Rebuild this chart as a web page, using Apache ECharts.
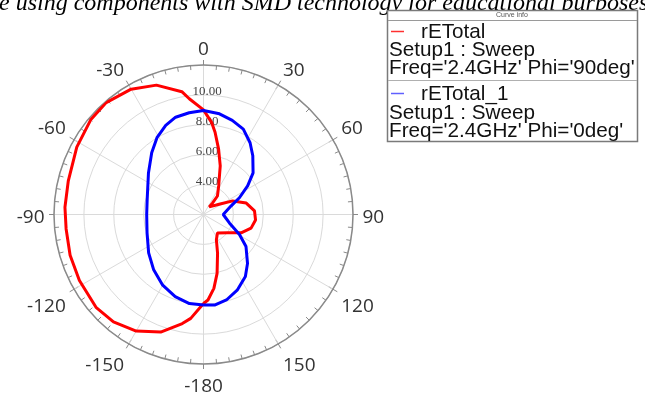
<!DOCTYPE html>
<html>
<head>
<meta charset="utf-8">
<script src="https://cdn.jsdelivr.net/npm/echarts@6/dist/echarts.min.js"></script>
<style>
  html, body { margin: 0; padding: 0; background: #ffffff; }
  #chart { width: 645px; height: 403px; }
</style>
</head>
<body>
<div id="chart"></div>
<script>
// Far-field gain pattern, rETotal at 2.4 GHz (angles in degrees, -180..180)
const redAngle = [-180, -173, -169, -160, -150, -140, -131, -118, -107, -96, -87, -76, -62, -50, -41, -30, -20, -10, -7,
                  0, 5, 8, 13, 19, 28, 37, 38, 37, 57, 65, 75, 86, 96, 106, 116, 127, 143, 153, 160, 167, 172, 177, 180];
const redValue = [7.95, 9.0, 9.43, 10.37, 11.0, 11.37, 11.5, 11.4, 11.33, 11.24, 11.28, 11.32, 11.6, 11.85, 11.92, 11.68, 11.21, 10.34, 9.8,
                  9.0, 8.19, 7.56, 6.49, 5.44, 4.16, 3.55, 2.99, 2.64, 3.25, 4.15, 4.96, 5.42, 5.5, 5.31, 4.8, 4.03, 3.55, 3.9, 4.75, 6.04, 6.99, 7.73, 7.95];

const blueAngle = [-180, -171, -161, -150, -138, -125, -108, -90, -75, -53, -40, -31, -23, -16, -8,
                   0, 9, 17, 25, 33, 40, 50, 57, 65, 73, 90, 108, 119, 127, 138, 146, 156, 165, 173, 180];
const blueValue = [8.05, 8.03, 7.81, 7.46, 6.98, 6.48, 5.97, 5.8, 5.9, 6.61, 7.39, 8.02, 8.47, 8.77, 8.87,
                   8.96, 8.82, 8.58, 8.30, 7.72, 7.13, 6.33, 5.52, 4.65, 3.92, 3.32, 3.82, 4.75, 5.56, 6.40, 7.01, 7.54, 7.92, 8.10, 8.05];

// Angle tick labels, one per 30 degrees going clockwise from the top
const angleLabels = ['0', '30', '60', '90', '120', '150', '-180', '-150', '-120', '-90', '-60', '-30'];
// Radial grid values and their labels
const radialTicks = [4, 6, 8, 10];
const radialLabels = ['4.00', '6.00', '8.00', '10.00'];

const legendEntries = [
  { name: 'rETotal', setup: 'Setup1 : Sweep', sweep: "Freq='2.4GHz' Phi='90deg'" },
  { name: 'rETotal_1', setup: 'Setup1 : Sweep', sweep: "Freq='2.4GHz' Phi='0deg'" }
];

function toPolar(angles, values) {
  return angles.map((a, i) => [values[i], a < 0 ? a + 360 : a]);
}

const CX = 203.5, CY = 214.5, R = 149.5;
const axisGray = '#8a8a8a';
const gridGray = '#dadada';
const legendFont = '20.7px "Liberation Sans"';

const chart = echarts.init(document.getElementById('chart'), null, { renderer: 'canvas' });

const legendGraphic = {
  type: 'group',
  children: [
    { type: 'rect', shape: { x: 387.5, y: 10.5, width: 250, height: 131 },
      style: { fill: '#ffffff', stroke: '#7a7a7a', lineWidth: 1.5 } },
    { type: 'text', style: { x: 512, y: 15.5, text: 'Curve info', font: '7px "Liberation Sans"', fill: '#555', align: 'center', verticalAlign: 'middle' } },
    { type: 'line', shape: { x1: 388, y1: 20.5, x2: 637, y2: 20.5 }, style: { stroke: '#9a9a9a', lineWidth: 1 } },
    { type: 'line', shape: { x1: 388, y1: 80.5, x2: 637, y2: 80.5 }, style: { stroke: '#b0b0b0', lineWidth: 1 } },
    { type: 'line', shape: { x1: 391, y1: 31.5, x2: 404, y2: 31.5 }, style: { stroke: '#ff3030', lineWidth: 1.5 } },
    { type: 'line', shape: { x1: 391, y1: 93.5, x2: 404, y2: 93.5 }, style: { stroke: '#6060ff', lineWidth: 1.5 } },
    { type: 'text', style: { x: 421, y: 32.5, text: legendEntries[0].name, font: legendFont, fill: '#111', verticalAlign: 'middle' } },
    { type: 'text', style: { x: 389, y: 50.5, text: legendEntries[0].setup, font: legendFont, fill: '#111', verticalAlign: 'middle' } },
    { type: 'text', style: { x: 389, y: 68.5, text: legendEntries[0].sweep, font: legendFont, fill: '#111', verticalAlign: 'middle' } },
    { type: 'text', style: { x: 421, y: 94.5, text: legendEntries[1].name, font: legendFont, fill: '#111', verticalAlign: 'middle' } },
    { type: 'text', style: { x: 389, y: 113, text: legendEntries[1].setup, font: legendFont, fill: '#111', verticalAlign: 'middle' } },
    { type: 'text', style: { x: 389, y: 131.5, text: legendEntries[1].sweep, font: legendFont, fill: '#111', verticalAlign: 'middle' } }
  ]
};

const option = {
  animation: false,
  backgroundColor: '#ffffff',
  graphic: [
    { type: 'text', style: { x: -1, y: 16, text: 'e using components with SMD technology for educational purposes',
      font: 'italic 24px "Liberation Serif"', fill: '#000', verticalAlign: 'bottom' } },
    legendGraphic
  ],
  polar: [
    { center: [CX, CY], radius: R },
    { center: [CX, CY], radius: R },
    // carries the angle labels only, a little lower than the plot circle
    { center: [CX, CY + 3.5], radius: R + 1.5 }
  ],
  angleAxis: [
    {
      polarIndex: 0, type: 'value', min: 0, max: 360, interval: 30,
      startAngle: 90, clockwise: true,
      axisLine: { show: true, lineStyle: { color: axisGray, width: 1.5 } },
      axisTick: { show: true, inside: true, length: 5, lineStyle: { color: axisGray, width: 1 } },
      minorTick: { show: true, splitNumber: 6, length: 4.5, lineStyle: { color: axisGray, width: 1 } },
      axisLabel: { show: false },
      splitLine: { show: true, lineStyle: { color: gridGray, width: 1 } }
    },
    {
      polarIndex: 1, type: 'value', min: 0, max: 360, interval: 30,
      startAngle: 90, clockwise: true,
      axisLine: { show: false },
      axisTick: { show: true, inside: false, length: 5, lineStyle: { color: axisGray, width: 1 } },
      axisLabel: { show: false },
      splitLine: { show: false }
    },
    {
      polarIndex: 2, type: 'value', min: 0, max: 360, interval: 30,
      startAngle: 90, clockwise: true,
      axisLine: { show: false },
      axisTick: { show: false },
      splitLine: { show: false },
      axisLabel: {
        margin: 8, fontSize: 19, color: '#333333', fontFamily: 'Open Sans',
        formatter: v => (v % 30 === 0 && v < 360) ? angleLabels[v / 30] : ''
      }
    }
  ],
  radiusAxis: [
    {
      polarIndex: 0, type: 'value', min: 2, max: 12, interval: 2,
      axisLine: { show: false },
      axisTick: { show: false },
      axisLabel: {
        margin: -3.5, fontSize: 13, color: '#444', fontFamily: 'Liberation Serif',
        align: 'center', verticalAlign: 'bottom', lineHeight: 7,
        formatter: v => { const i = radialTicks.indexOf(v); return i >= 0 ? radialLabels[i] : ''; }
      },
      splitLine: { show: true, lineStyle: { color: gridGray, width: 1 } }
    },
    { polarIndex: 1, type: 'value', min: 2, max: 12, show: false },
    { polarIndex: 2, type: 'value', min: 2, max: 12, show: false }
  ],
  series: [
    {
      name: legendEntries[0].name, type: 'line', coordinateSystem: 'polar', polarIndex: 0,
      data: toPolar(redAngle, redValue), symbol: 'none', smooth: false,
      lineStyle: { color: '#ff0000', width: 3 }, z: 3
    },
    {
      name: legendEntries[1].name, type: 'line', coordinateSystem: 'polar', polarIndex: 0,
      data: toPolar(blueAngle, blueValue), symbol: 'none', smooth: false,
      lineStyle: { color: '#0000ff', width: 3 }, z: 4
    }
  ]
};

chart.setOption(option);
</script>
</body>
</html>
